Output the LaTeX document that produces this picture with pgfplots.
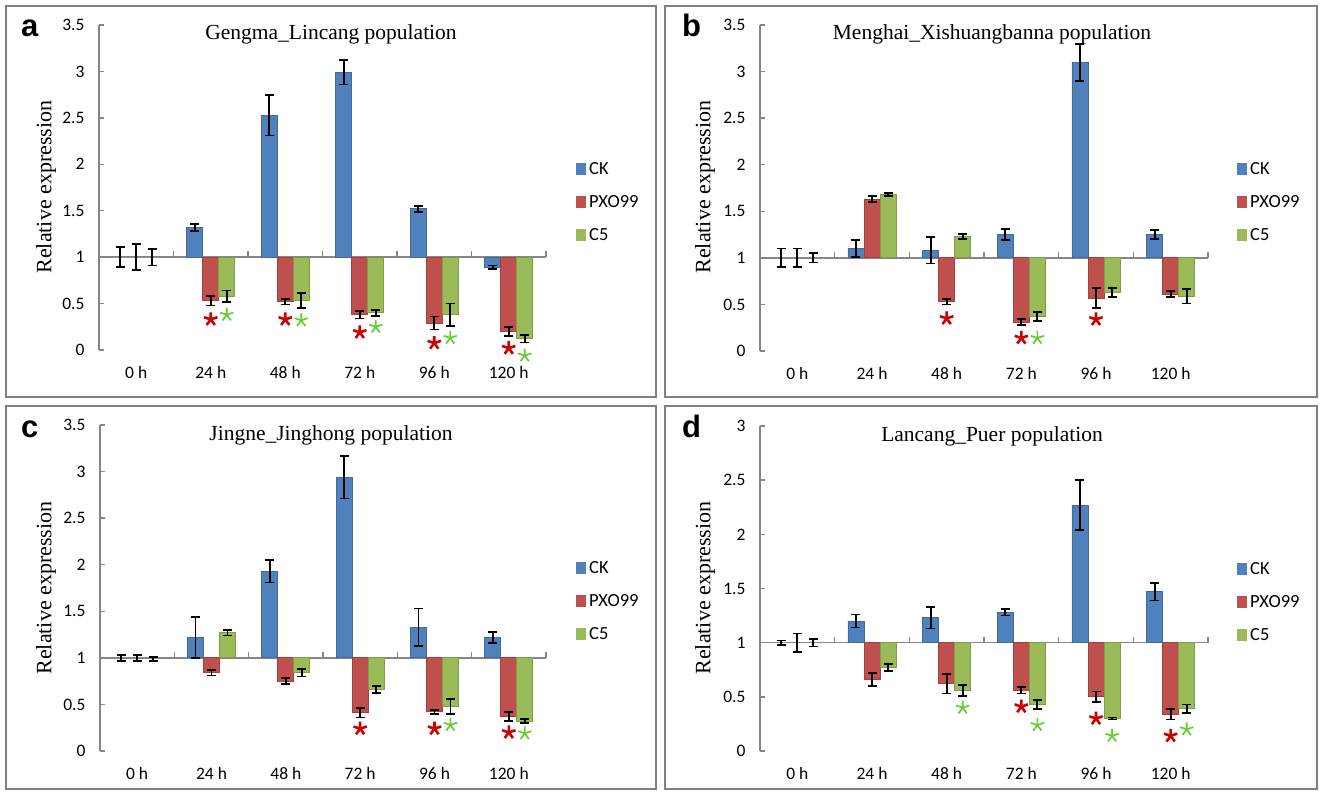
\documentclass[border=0pt]{standalone}
\usepackage{fontspec}
\setmainfont{Liberation Serif}
\newfontfamily\calib{Carlito}
\newfontfamily\arial{Liberation Sans}
\usepackage{pgfplots}
\usepackage{pgfplotstable}
\pgfplotsset{compat=1.18}

\definecolor{ckf}{HTML}{4F81BD}\definecolor{ckd}{HTML}{40699C}
\definecolor{pxf}{HTML}{C0504D}\definecolor{pxd}{HTML}{A3403D}
\definecolor{c5f}{HTML}{9BBB59}\definecolor{c5d}{HTML}{809C48}
\definecolor{axg}{HTML}{868686}
\definecolor{framec}{HTML}{808080}
\definecolor{sred}{HTML}{CC0000}
\definecolor{sgreen}{HTML}{66CC33}

\pgfdeclareplotmark{ast5}{%
  \pgfpathmoveto{\pgfpointorigin}\pgfpathlineto{\pgfpointpolar{90}{\pgfplotmarksize}}%
  \pgfpathmoveto{\pgfpointorigin}\pgfpathlineto{\pgfpointpolar{18}{\pgfplotmarksize}}%
  \pgfpathmoveto{\pgfpointorigin}\pgfpathlineto{\pgfpointpolar{162}{\pgfplotmarksize}}%
  \pgfpathmoveto{\pgfpointorigin}\pgfpathlineto{\pgfpointpolar{234}{\pgfplotmarksize}}%
  \pgfpathmoveto{\pgfpointorigin}\pgfpathlineto{\pgfpointpolar{306}{\pgfplotmarksize}}%
  \pgfusepathqstroke}

% columns: x, CK, CK error, PXO99, PXO99 error, C5, C5 error
\pgfplotstableread{
x ck cke px pxe c5 c5e
0 1.00 0.11 1.00 0.14 1.00 0.09
1 1.32 0.04 0.53 0.05 0.58 0.06
2 2.53 0.22 0.52 0.03 0.53 0.08
3 2.99 0.13 0.38 0.04 0.40 0.03
4 1.52 0.03 0.29 0.07 0.38 0.12
5 0.89 0.02 0.20 0.05 0.12 0.04
}\dataA
\pgfplotstableread{
x y
1 0.33
2 0.33
3 0.19
4 0.075
5 0.02
}\starAr
\pgfplotstableread{
x y
1 0.38
2 0.32
3 0.25
4 0.13
5 -0.06
}\starAg

\pgfplotstableread{
x ck cke px pxe c5 c5e
0 1.00 0.10 1.00 0.10 1.00 0.05
1 1.10 0.09 1.63 0.03 1.68 0.02
2 1.08 0.14 0.53 0.03 1.23 0.03
3 1.25 0.06 0.31 0.03 0.37 0.05
4 3.10 0.20 0.57 0.11 0.63 0.05
5 1.25 0.05 0.61 0.03 0.59 0.08
}\dataB
\pgfplotstableread{
x y
2 0.35
3 0.14
4 0.34
}\starBr
\pgfplotstableread{
x y
3 0.14
}\starBg

\pgfplotstableread{
x ck cke px pxe c5 c5e
0 1.00 0.03 1.00 0.03 0.99 0.02
1 1.22 0.22 0.84 0.03 1.27 0.03
2 1.93 0.12 0.75 0.03 0.84 0.04
3 2.94 0.23 0.41 0.05 0.66 0.04
4 1.33 0.20 0.42 0.02 0.48 0.08
5 1.22 0.06 0.37 0.05 0.32 0.02
}\dataC
\pgfplotstableread{
x y
3 0.24
4 0.24
5 0.20
}\starCr
\pgfplotstableread{
x y
4 0.28
5 0.19
}\starCg

\pgfplotstableread{
x ck cke px pxe c5 c5e
0 1.00 0.02 1.00 0.085 1.00 0.035
1 1.20 0.06 0.66 0.06 0.77 0.03
2 1.23 0.10 0.62 0.09 0.56 0.05
3 1.28 0.03 0.56 0.03 0.43 0.04
4 2.27 0.23 0.50 0.05 0.30 0.01
5 1.47 0.08 0.34 0.05 0.39 0.04
}\dataD
\pgfplotstableread{
x y
3 0.41
4 0.30
5 0.14
}\starDr
\pgfplotstableread{
x y
2 0.40
3 0.24
4 0.14
5 0.20
}\starDg

\pgfplotsset{
  panel/.style={
    scale only axis, xmin=-0.5, xmax=5.5, clip=false,
    axis x line*=bottom, axis y line*=left,
    x axis line style={draw=none},
    y axis line style={draw=axg, line width=1.5pt, -},
    xtick={0,...,5}, xticklabels={0 h,24 h,48 h,72 h,96 h,120 h},
    x tick style={draw=none},
    y tick style={draw=axg, line width=1.5pt},
    tick align=inside, major tick length=5pt,
    ticklabel style={font=\calib\fontsize{17.5}{17.5}\selectfont},
    xticklabel style={yshift=-13pt},
    yticklabel style={xshift=-11pt},
    extra y ticks={0}, extra y tick labels={},
    extra y tick style={grid=major, major grid style={draw=axg, line width=1.5pt}, major tick length=0pt},
  },
  bb/.style={ybar, bar width=16pt, bar shift=0pt, line width=0.8pt},
  ebar/.style={/pgfplots/error bars/y dir=both, /pgfplots/error bars/y explicit,
    /pgfplots/error bars/error bar style={draw=black, line width=1.8pt},
    /pgfplots/error bars/error mark options={draw=black, rotate=90, mark size=4.5pt, line width=1.8pt}},
}

% 16pt bar offset in data units (category width about 74.6pt)
\def\off{0.2146}
\newcommand\bars[1]{%
  \addplot[bb, fill=ckf, draw=ckd, ebar, restrict x to domain=0.5:5.5] table[x expr={\thisrow{x}-\off}, y expr={\thisrow{ck}-1}, y error=cke]{#1};
  \addplot[bb, fill=pxf, draw=pxd, ebar, restrict x to domain=0.5:5.5] table[x=x, y expr={\thisrow{px}-1}, y error=pxe]{#1};
  \addplot[bb, fill=c5f, draw=c5d, ebar, restrict x to domain=0.5:5.5] table[x expr={\thisrow{x}+\off}, y expr={\thisrow{c5}-1}, y error=c5e]{#1};
  \addplot[bb, draw=none, fill=none, ebar, restrict x to domain=-0.5:0.45] table[x expr={\thisrow{x}-\off}, y expr={\thisrow{ck}-1}, y error=cke]{#1};
  \addplot[bb, draw=none, fill=none, ebar, restrict x to domain=-0.5:0.45] table[x=x, y expr={\thisrow{px}-1}, y error=pxe]{#1};
  \addplot[bb, draw=none, fill=none, ebar, restrict x to domain=-0.5:0.45] table[x expr={\thisrow{x}+\off}, y expr={\thisrow{c5}-1}, y error=c5e]{#1};
  \draw[axg, line width=1.5pt] (axis cs:0.5,0) -- ++(0pt,6pt) (axis cs:1.5,0) -- ++(0pt,6pt)
     (axis cs:2.5,0) -- ++(0pt,6pt) (axis cs:3.5,0) -- ++(0pt,6pt)
     (axis cs:4.5,0) -- ++(0pt,6pt) (axis cs:5.5,0) -- ++(0pt,6pt);
}
\newcommand\stars[2]{%
  \addplot[only marks, mark=ast5, mark size=7pt, mark options={draw=sred, line width=2.6pt}] table[x=x, y expr={\thisrow{y}-1}]{#1};
  \addplot[only marks, mark=ast5, mark size=7pt, mark options={draw=sgreen, line width=1.7pt}] table[x expr={\thisrow{x}+\off}, y expr={\thisrow{y}-1}]{#2};
}

\tikzset{lgdtext/.style={anchor=west, inner sep=0pt, font=\calib\fontsize{18.5}{18.5}\selectfont},
  ttl/.style={anchor=base, inner sep=0pt, font=\fontsize{21.5}{21.5}\selectfont},
  ylab/.style={rotate=90, inner sep=0pt, font=\fontsize{22}{22}\selectfont},
  plet/.style={anchor=base west, inner sep=0pt, font=\arial\bfseries\fontsize{31}{31}\selectfont}}

\newcommand\lgd[2]{%
  \fill[ckf] (#1,{#2-6}) rectangle ({#1+10},{#2+6});
  \node[lgdtext] at ({#1+13},#2) {CK};
  \fill[pxf] (#1,{#2+33-6}) rectangle ({#1+10},{#2+33+6});
  \node[lgdtext] at ({#1+13},{#2+33}) {PXO99};
  \fill[c5f] (#1,{#2+66-6}) rectangle ({#1+10},{#2+66+6});
  \node[lgdtext] at ({#1+13},{#2+66}) {C5};
}

\begin{document}
\begin{tikzpicture}[x=1pt, y=-1pt]
\useasboundingbox (0,0) rectangle (1320,793);
\fill[white] (0,0) rectangle (1320,793);
\draw[framec, line width=2pt] (6,6) rectangle (656,397);
\draw[framec, line width=2pt] (665,6) rectangle (1317,397);
\draw[framec, line width=2pt] (6,406) rectangle (656,789);
\draw[framec, line width=2pt] (665,406) rectangle (1317,789);

% panel a
\begin{axis}[panel, at={(99pt,-350pt)}, anchor=south west, width=447pt, height=325pt,
  ymin=-1, ymax=2.5, ytick={-1,-0.5,0,0.5,1,1.5,2,2.5}, yticklabels={0,0.5,1,1.5,2,2.5,3,3.5}]
\bars{\dataA}
\stars{\starAr}{\starAg}
\end{axis}
% panel b
\begin{axis}[panel, at={(760pt,-351pt)}, anchor=south west, width=448pt, height=326pt,
  ymin=-1, ymax=2.5, ytick={-1,-0.5,0,0.5,1,1.5,2,2.5}, yticklabels={0,0.5,1,1.5,2,2.5,3,3.5}]
\bars{\dataB}
\stars{\starBr}{\starBg}
\end{axis}
% panel c
\begin{axis}[panel, at={(100pt,-751pt)}, anchor=south west, width=446pt, height=326pt,
  ymin=-1, ymax=2.5, ytick={-1,-0.5,0,0.5,1,1.5,2,2.5}, yticklabels={0,0.5,1,1.5,2,2.5,3,3.5}]
\bars{\dataC}
\stars{\starCr}{\starCg}
\end{axis}
% panel d
\begin{axis}[panel, at={(760pt,-751pt)}, anchor=south west, width=448pt, height=325pt,
  ymin=-1, ymax=2, ytick={-1,-0.5,0,0.5,1,1.5,2}, yticklabels={0,0.5,1,1.5,2,2.5,3}]
\bars{\dataD}
\stars{\starDr}{\starDg}
\end{axis}

\node[ttl] at (331,39) {Gengma\_Lincang population};
\node[ttl] at (992,39) {Menghai\_Xishuangbanna population};
\node[ttl] at (331,440) {Jingne\_Jinghong population};
\node[ttl] at (992,441) {Lancang\_Puer population};

\node[ylab] at (46,187) {Relative expression};
\node[ylab] at (705,187) {Relative expression};
\node[ylab] at (46,588) {Relative expression};
\node[ylab] at (705,588) {Relative expression};

\node[plet] at (21,36) {a};
\node[plet] at (682,36) {b};
\node[plet] at (21,437) {c};
\node[plet] at (682,437) {d};

\lgd{576}{169}
\lgd{1237}{169}
\lgd{576}{568}
\lgd{1237}{569}
\end{tikzpicture}
\end{document}
